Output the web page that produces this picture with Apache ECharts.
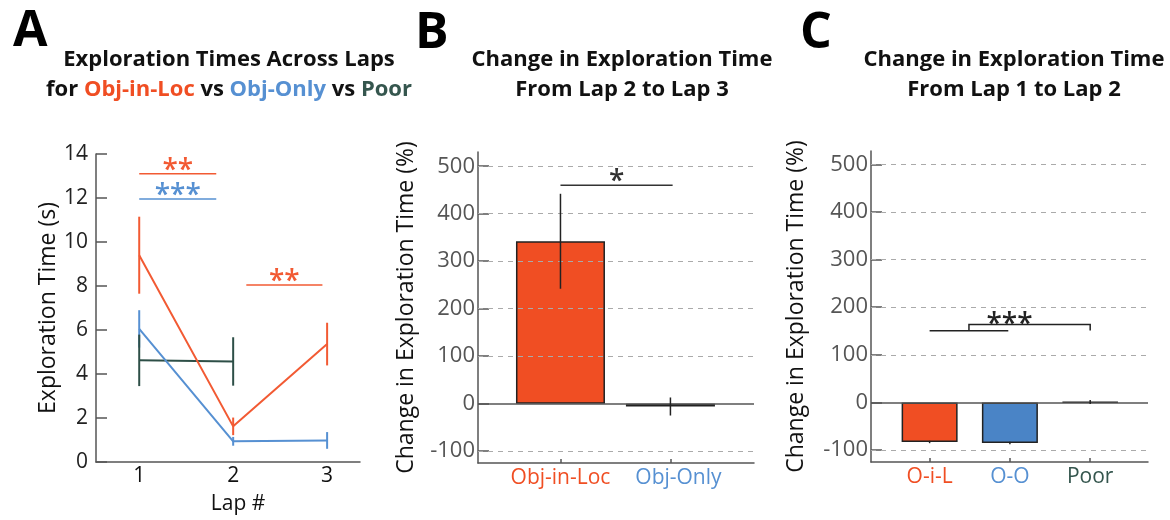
<!DOCTYPE html>
<html>
<head>
<meta charset="utf-8">
<script src="https://cdn.jsdelivr.net/npm/echarts@6/dist/echarts.min.js"></script>
<style>
html,body{margin:0;padding:0;background:#fff;}
#chart{width:1170px;height:520px;}
</style>
</head>
<body>
<div id="chart"></div>
<script>
// ---------- DATA ----------
// Panel A: exploration times across laps
const laps = [1, 2, 3];
const lapTicks = [1, 2, 3];
const yTicksA = [0, 2, 4, 6, 8, 10, 12, 14];
const objInLocMean = [9.4, 1.62, 5.36];
const objInLocErr = [1.75, 0.4, 0.97];
const objOnlyMean = [6.05, 0.94, 0.98];
const objOnlyErr = [0.85, 0.2, 0.38];
const poorLaps = [1, 2];
const poorMean = [4.62, 4.57];
const poorErr = [1.17, 1.1];
// significance lines A: [x1, x2, y, label, group]
const sigA = [
  [1.0, 1.82, 13.1, '**', 'red'],
  [1.0, 1.82, 11.95, '***', 'blue'],
  [2.14, 2.95, 8.05, '**', 'red']
];

// Panel B: change from lap 2 to lap 3
const catsB = ['Obj-in-Loc', 'Obj-Only'];
const valsB = [342, -6];
const errB = [100, 19];
const yTicksB = [-100, 0, 100, 200, 300, 400, 500];
const sigB = [[1.0, 2.02, 460, '*']];

// Panel C: change from lap 1 to lap 2
const catsC = ['O-i-L', 'O-O', 'Poor'];
const valsC = [-83, -85, 1];
const errC = [2.5, 2.5, 4];
const yTicksC = [-100, 0, 100, 200, 300, 400, 500];
// bracket: lower pair line, then connector to third
const sigC = { pairX: [1.0, 1.98], pairY: 150.5, joinX: 1.49, topY: 163.5, farX: 3.0, farY: 151, label: '***' };

// ---------- STYLE ----------
const RED = '#F04E23', BLUE = '#4A84C6', GREEN = '#2D4F47';
const RED_LINE = '#F25A33', BLUE_LINE = '#5690D2';
const AXIS = '#555';
const FONT = '"Open Sans", Lato, sans-serif';
const colorOf = { red: RED_LINE, blue: BLUE_LINE };

const chart = echarts.init(document.getElementById('chart'), null, { renderer: 'canvas' });

function errSeries(xi, yi, xs, means, errs, color, width) {
  return {
    type: 'custom', xAxisIndex: xi, yAxisIndex: yi, z: 5, silent: true,
    data: xs.map((x, i) => [x, means[i] - errs[i], means[i] + errs[i]]),
    renderItem: (p, api) => {
      const a = api.coord([api.value(0), api.value(1)]);
      const b = api.coord([api.value(0), api.value(2)]);
      return { type: 'line', shape: { x1: a[0], y1: a[1], x2: b[0], y2: b[1] },
        style: { stroke: color, lineWidth: width } };
    }
  };
}

function sigLineSeries(xi, yi, list, textSize, textOffset) {
  return {
    type: 'custom', xAxisIndex: xi, yAxisIndex: yi, z: 6, silent: true,
    data: list.map(d => [d[0], d[1], d[2]]),
    renderItem: (p, api) => {
      const d = list[p.dataIndex];
      const a = api.coord([d[0], d[2]]);
      const b = api.coord([d[1], d[2]]);
      const col = d[4] ? colorOf[d[4]] : '#333';
      return { type: 'group', children: [
        { type: 'line', shape: { x1: a[0], y1: a[1], x2: b[0], y2: b[1] }, style: { stroke: col, lineWidth: 1.5 } },
        { type: 'text', x: (a[0] + b[0]) / 2, y: a[1] - textOffset,
          style: { text: d[3], fill: col, font: '600 ' + textSize + 'px ' + FONT, textAlign: 'center', textVerticalAlign: 'middle' } }
      ]};
    }
  };
}

function refLines(ticks) {
  return {
    silent: true, symbol: 'none', label: { show: false },
    data: ticks.map(v => ({ yAxis: v, lineStyle: v === 0 ?
      { type: 'solid', color: '#555', width: 1.5 } :
      { type: [5, 5], color: '#aaa', width: 1 } }))
  };
}

const TS = 22;
const richA = {
  k: { color: '#111', fontSize: TS, fontWeight: 'bold', fontFamily: FONT },
  r: { color: RED, fontSize: TS, fontWeight: 'bold', fontFamily: FONT },
  b: { color: '#5690D2', fontSize: TS, fontWeight: 'bold', fontFamily: FONT },
  g: { color: '#35564E', fontSize: TS, fontWeight: 'bold', fontFamily: FONT }
};

const titleStyle = { color: '#111', fontSize: TS, fontWeight: 'bold', fontFamily: FONT };
const letterStyle = { color: '#000', fontSize: 50, fontWeight: 'bold', fontFamily: FONT };

function valueYAxis(gi, min, max, ticks, labelColor, name, nameGap, fontSize, nameSize, margin) {
  return {
    type: 'value', gridIndex: gi, min: min, max: max,
    name: name, nameLocation: 'middle', nameGap: nameGap, nameRotate: 90,
    nameTextStyle: { color: '#111', fontSize: nameSize, fontFamily: FONT },
    axisLine: { show: true, onZero: false, lineStyle: { color: AXIS, width: 1.5 } },
    axisTick: { show: true, inside: true, length: 11, customValues: ticks, lineStyle: { color: AXIS, width: 1.5 } },
    axisLabel: { customValues: ticks, color: labelColor, fontSize: fontSize, fontFamily: FONT, margin: margin },
    splitLine: { show: false }
  };
}

const option = {
  backgroundColor: '#fff',
  animation: false,
  title: [
    { text: 'A', left: 8, top: 2, textStyle: letterStyle },
    { text: 'Exploration Times Across Laps', left: 224, top: 44, textAlign: 'center', textStyle: titleStyle },
    { text: '{k|for }{r|Obj-in-Loc}{k| vs }{b|Obj-Only}{k| vs }{g|Poor}', left: 224, top: 74, textAlign: 'center',
      textStyle: { rich: richA } },
    { text: 'B', left: 410, top: 4, textStyle: letterStyle },
    { text: 'Change in Exploration Time', left: 617, top: 44, textAlign: 'center', textStyle: titleStyle },
    { text: 'From Lap 2 to Lap 3', left: 617, top: 74, textAlign: 'center', textStyle: titleStyle },
    { text: 'C', left: 795, top: 4, textStyle: letterStyle },
    { text: 'Change in Exploration Time', left: 1009, top: 44, textAlign: 'center', textStyle: titleStyle },
    { text: 'From Lap 1 to Lap 2', left: 1009, top: 74, textAlign: 'center', textStyle: titleStyle }
  ],
  grid: [
    { left: 96, top: 154, width: 264, height: 308 },
    { left: 478, top: 152, width: 276, height: 311 },
    { left: 871, top: 151, width: 277, height: 311 }
  ],
  xAxis: [
    { type: 'value', gridIndex: 0, min: 0.54, max: 3.35,
      name: 'Lap #', nameLocation: 'middle', nameGap: 32,
      nameTextStyle: { color: '#111', fontSize: 21, fontFamily: FONT, padding: [0, 0, 0, 20] },
      axisLine: { show: true, onZero: false, lineStyle: { color: AXIS, width: 1.5 } },
      axisTick: { show: false },
      axisLabel: { customValues: lapTicks, color: '#111', fontSize: 21, fontFamily: FONT, margin: 4 },
      splitLine: { show: false } },
    { type: 'value', gridIndex: 1, min: 0.25, max: 2.76,
      axisLine: { show: true, onZero: false, lineStyle: { color: AXIS, width: 1.5 } },
      axisTick: { show: true, inside: true, length: 4, customValues: [1, 2], lineStyle: { color: AXIS, width: 1.5 } },
      axisLabel: { customValues: [1, 2], fontSize: 21, fontFamily: FONT, margin: 5,
        formatter: v => { const c = catsB[Math.round(v) - 1]; return '{' + (c === 'Obj-in-Loc' ? 'r' : 'b') + '|' + c + '}'; },
        rich: { r: { color: RED, fontSize: 21, fontFamily: FONT }, b: { color: '#5690D2', fontSize: 21, fontFamily: FONT, padding: [0, 0, 0, 16] } } },
      splitLine: { show: false } },
    { type: 'value', gridIndex: 2, min: 0.27, max: 3.72,
      axisLine: { show: true, onZero: false, lineStyle: { color: AXIS, width: 1.5 } },
      axisTick: { show: true, inside: true, length: 4, customValues: [1, 2, 3], lineStyle: { color: AXIS, width: 1.5 } },
      axisLabel: { customValues: [1, 2, 3], fontSize: 21, fontFamily: FONT, margin: 5,
        formatter: v => { const i = Math.round(v) - 1; return '{c' + i + '|' + catsC[i] + '}'; },
        rich: { c0: { color: RED, fontSize: 21, fontFamily: FONT }, c1: { color: '#5690D2', fontSize: 21, fontFamily: FONT }, c2: { color: '#35564E', fontSize: 21, fontFamily: FONT } } },
      splitLine: { show: false } }
  ],
  yAxis: [
    valueYAxis(0, 0, 14, yTicksA, '#222', 'Exploration Time (s)', 24, 21, 23, 8),
    valueYAxis(1, -125, 530, yTicksB, '#555', 'Change in Exploration Time (%)', 60, 22, 23, 3),
    valueYAxis(2, -125, 528, yTicksC, '#555', 'Change in Exploration Time (%)', 63, 22, 23, 3)
  ],
  series: [
    // Panel A lines
    { type: 'line', xAxisIndex: 0, yAxisIndex: 0, showSymbol: false, z: 4,
      data: laps.map((x, i) => [x, objInLocMean[i]]), lineStyle: { color: RED_LINE, width: 2 } },
    { type: 'line', xAxisIndex: 0, yAxisIndex: 0, showSymbol: false, z: 3,
      data: laps.map((x, i) => [x, objOnlyMean[i]]), lineStyle: { color: BLUE_LINE, width: 2 } },
    { type: 'line', xAxisIndex: 0, yAxisIndex: 0, showSymbol: false, z: 2,
      data: poorLaps.map((x, i) => [x, poorMean[i]]), lineStyle: { color: GREEN, width: 2 } },
    errSeries(0, 0, laps, objInLocMean, objInLocErr, RED_LINE, 2),
    errSeries(0, 0, laps, objOnlyMean, objOnlyErr, BLUE_LINE, 2),
    errSeries(0, 0, poorLaps, poorMean, poorErr, GREEN, 2),
    sigLineSeries(0, 0, sigA, 28, 3),
    // Panel B
    { type: 'bar', xAxisIndex: 1, yAxisIndex: 1, barWidth: 89, z: 3,
      data: valsB.map((v, i) => ({ value: [i + 1, v], itemStyle: { color: i === 0 ? RED : BLUE, borderColor: '#222', borderWidth: 1.5 } })),
      markLine: refLines(yTicksB) },
    errSeries(1, 1, [1, 2], valsB, errB, '#222', 1.5),
    sigLineSeries(1, 1, sigB, 28, 3),
    // Panel C
    { type: 'bar', xAxisIndex: 2, yAxisIndex: 2, barWidth: 56, z: 3,
      data: valsC.map((v, i) => ({ value: [i + 1, v], itemStyle: { color: [RED, BLUE, GREEN][i], borderColor: '#222', borderWidth: 1.5 } })),
      markLine: refLines(yTicksC) },
    errSeries(2, 2, [1, 2, 3], valsC, errC, '#222', 1.5),
    { type: 'custom', xAxisIndex: 2, yAxisIndex: 2, z: 6, silent: true, data: [[sigC.joinX, sigC.topY]],
      renderItem: (p, api) => {
        const p1 = api.coord([sigC.pairX[0], sigC.pairY]);
        const p2 = api.coord([sigC.pairX[1], sigC.pairY]);
        const j0 = api.coord([sigC.joinX, sigC.pairY]);
        const j1 = api.coord([sigC.joinX, sigC.topY]);
        const f1 = api.coord([sigC.farX, sigC.topY]);
        const f2 = api.coord([sigC.farX, sigC.farY]);
        const mid = api.coord([(sigC.joinX + sigC.farX) / 2 - 0.25, sigC.topY]);
        const st = { stroke: '#222', lineWidth: 1.5, fill: null };
        return { type: 'group', children: [
          { type: 'line', shape: { x1: p1[0], y1: p1[1], x2: p2[0], y2: p2[1] }, style: st },
          { type: 'polyline', shape: { points: [j0, j1, f1, f2] }, style: st },
          { type: 'text', x: mid[0], y: mid[1], style: { text: sigC.label, fill: '#222', font: '600 28px ' + FONT, textAlign: 'center', textVerticalAlign: 'middle' } }
        ]};
      } }
  ]
};
chart.setOption(option);
</script>
</body>
</html>
